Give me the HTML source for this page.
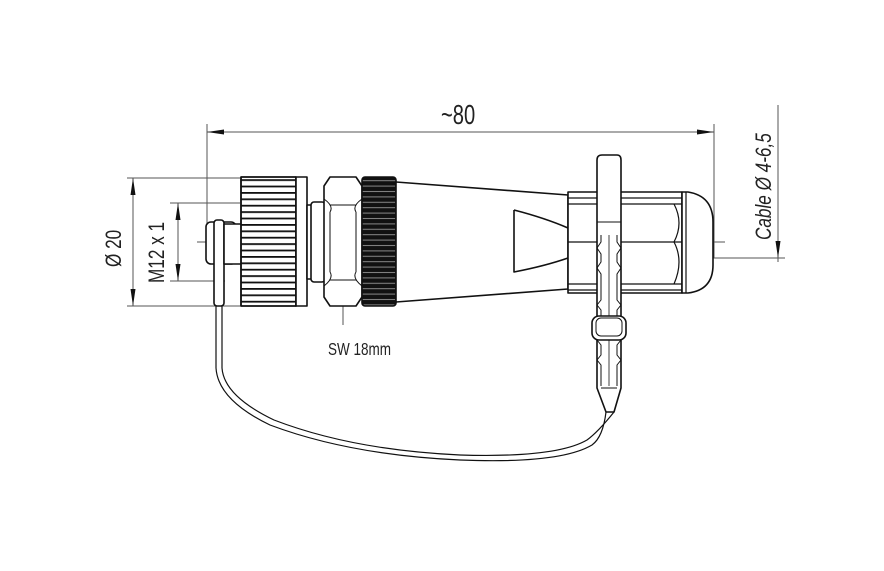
<!DOCTYPE html>
<html><head><meta charset="utf-8"><style>
html,body{margin:0;padding:0;background:#fff;}
svg{display:block}
text{font-family:"Liberation Sans",sans-serif;fill:#222}
</style></head><body>
<svg width="884" height="571" viewBox="0 0 884 571" xmlns="http://www.w3.org/2000/svg">
<defs>
<pattern id="knurl" width="6" height="6.4" patternUnits="userSpaceOnUse">
<rect width="6" height="6.4" fill="#fff"/><rect y="0" width="6" height="1.8" fill="#111"/></pattern>
<pattern id="knurlB" width="6" height="5.4" patternUnits="userSpaceOnUse">
<rect width="6" height="5.4" fill="#111"/><rect y="2" width="6" height="1" fill="#888"/></pattern>
</defs>
<g stroke="#555" stroke-width="1" fill="none">
<line x1="207" y1="124" x2="207" y2="245"/>
<line x1="714" y1="124" x2="714" y2="258"/>
<line x1="207" y1="132" x2="714" y2="132"/>
<line x1="127" y1="178" x2="240" y2="178"/>
<line x1="127" y1="306" x2="240" y2="306"/>
<line x1="133" y1="178" x2="133" y2="306"/>
<line x1="170" y1="203" x2="240" y2="203"/>
<line x1="170" y1="281" x2="225" y2="281"/>
<line x1="178" y1="203" x2="178" y2="281"/>
<line x1="778" y1="105" x2="778" y2="262"/>
<line x1="713" y1="258" x2="785" y2="258"/>
<line x1="713" y1="242" x2="724" y2="242"/>
<line x1="343" y1="258" x2="343" y2="325"/>
<line x1="197" y1="242" x2="725" y2="242" stroke-dasharray="40,5,6,5"/>
</g>
<g fill="#111">
<polygon points="207,132 224,129.5 224,134.5"/>
<polygon points="714,132 697,129.5 697,134.5"/>
<polygon points="133,178 130.5,195 135.5,195"/>
<polygon points="133,306 130.5,289 135.5,289"/>
<polygon points="178,203 175.5,220 180.5,220"/>
<polygon points="178,281 175.5,264 180.5,264"/>
<polygon points="778,258 775.5,241 780.5,241"/>
<polygon points="343,256 341,268 345,268"/>
</g>
<g stroke="#111" stroke-width="1.6" fill="#fff" stroke-linejoin="round">
<path d="M216,280 L216,368 Q218,400 270,425 Q350,455 460,460 Q560,464 592,445 Q603,437 606,412" fill="none" stroke-width="1.2"/>
<path d="M222,280 L222,368 Q224,396 274,420 Q352,450 460,455 Q556,458 587,440 Q598,432 614,412" fill="none" stroke-width="1.2"/>
<rect x="206" y="222" width="30" height="42" rx="5"/>
<rect x="214" y="220" width="10" height="86" rx="3"/>
<rect x="224" y="224" width="18" height="40"/>
<rect x="241" y="177" width="55" height="129" fill="url(#knurl)"/>
<rect x="241" y="177" width="55" height="129" fill="none"/>
<rect x="296" y="177" width="11" height="129"/>
<rect x="307" y="205" width="12" height="74"/>
<rect x="311" y="202" width="14" height="80" rx="3"/>
<path d="M330,177 L356,177 L362,186 L362,297 L356,306 L330,306 L324,297 L324,186 Z"/>
<path d="M330,205 L356,205 M330,280 L356,280 M324,199 Q334,206 330,212 M362,199 Q352,206 356,212 M330,212 L330,272 M356,212 L356,272 M324,286 Q334,278 330,272 M362,286 Q352,278 356,272" fill="none" stroke-width="1"/>
<rect x="362" y="177" width="34" height="129" rx="3" fill="url(#knurlB)"/>
<path d="M396,182 L568,195 L568,289 L396,302 Z"/>
<path d="M514,210 Q545,218 568,228 M568,258 Q545,266 514,272 L514,210" fill="none"/>
<rect x="568" y="192" width="114" height="101"/>
<path d="M568,198 L682,198 M568,204 L682,204 M568,284 L682,284 M568,290 L682,290 M568,242 L682,242" fill="none" stroke-width="1.2"/>
<path d="M674,204 Q684,223 674,242 Q684,261 674,284" fill="none" stroke-width="1.2"/>
<path d="M682,192 L688,192 Q713,196 713,222 L713,265 Q713,290 688,293 L682,293 Z"/>
<line x1="686" y1="192" x2="686" y2="293" stroke-width="1.2"/>
<path d="M597,160 Q597,155 602,155 L617,155 Q621,155 621,160 L621,388 L614,412 L606,412 L597,388 Z"/>
<line x1="597" y1="222" x2="621" y2="222" stroke-width="1"/>
<path d="M601,235 L601,242 L597,248 L601,254 L601,262 L597,268 L601,274 L601,300 L597,305 L601,310 L601,335 L597,340 L601,345 L601,355 L597,360 L601,365 L601,386 M617,235 L617,242 L621,248 L617,254 L617,262 L621,268 L617,274 L617,300 L621,305 L617,310 L617,335 L621,340 L617,345 L617,355 L621,360 L617,365 L617,386" fill="none" stroke-width="1"/>
<line x1="609" y1="235" x2="609" y2="386" stroke-width="0.8"/>
<rect x="592" y="316" width="34" height="24" rx="7"/>
<rect x="596" y="318" width="26" height="18" rx="5" fill="none" stroke-width="1"/>
<line x1="601" y1="388" x2="617" y2="388" stroke-width="1"/>
</g>
<text font-size="28" transform="translate(441,124) scale(0.72,1)">~80</text>
<text font-size="22" transform="translate(121,267) rotate(-90) scale(0.78,1)">Ø 20</text>
<text font-size="22" transform="translate(164,283) rotate(-90) scale(0.78,1)">M12 x 1</text>
<text font-size="22" font-style="italic" transform="translate(771,240) rotate(-90) scale(0.78,1)">Cable Ø 4-6,5</text>
<text font-size="18" transform="translate(328,355) scale(0.75,1)">SW 18mm</text>
</svg>
</body></html>
